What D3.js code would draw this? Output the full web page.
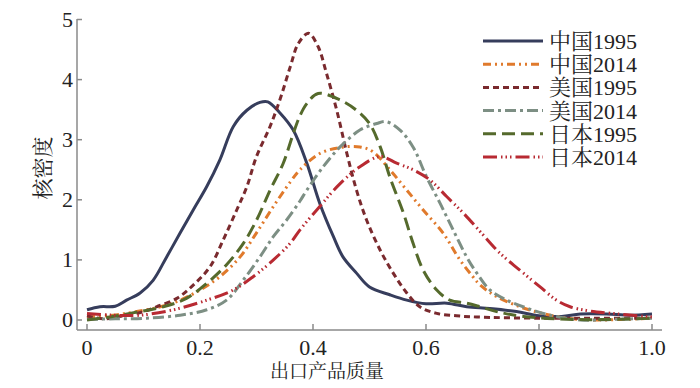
<!DOCTYPE html>
<html>
<head>
<meta charset="utf-8">
<script src="https://cdn.jsdelivr.net/npm/d3@7"></script>
<style>
  body { margin: 0; background: #fff; }
  text { font-family: "Liberation Serif", "Noto Serif CJK SC", "Noto Sans CJK SC", serif; fill: #222; }
  .axis-line { stroke: #8a8a8a; stroke-width: 1.5px; }
</style>
</head>
<body>
<svg id="chart" width="700" height="388"></svg>
<script>
  const xTicks = [0, 0.2, 0.4, 0.6, 0.8, 1.0];
  const xTickLabels = ["0", "0.2", "0.4", "0.6", "0.8", "1.0"];
  const yTicks = [0, 1, 2, 3, 4, 5];

  const cn1995 = [[0,0.17],[0.023,0.22],[0.05,0.23],[0.07,0.33],[0.094,0.45],[0.117,0.66],[0.141,1.05],[0.165,1.45],[0.188,1.83],[0.212,2.22],[0.235,2.66],[0.259,3.22],[0.283,3.49],[0.306,3.62],[0.32,3.63],[0.342,3.44],[0.365,3.16],[0.389,2.61],[0.412,1.94],[0.436,1.39],[0.453,1.05],[0.477,0.78],[0.5,0.55],[0.536,0.42],[0.566,0.33],[0.6,0.27],[0.637,0.28],[0.672,0.22],[0.713,0.19],[0.76,0.14],[0.8,0.07],[0.84,0.06],[0.873,0.1],[0.92,0.1],[0.96,0.08],[1.0,0.1]];
  const cn2014 = [[0,0.05],[0.046,0.08],[0.088,0.14],[0.13,0.22],[0.165,0.33],[0.2,0.5],[0.235,0.72],[0.271,1.05],[0.3,1.45],[0.33,1.89],[0.36,2.3],[0.377,2.5],[0.412,2.77],[0.448,2.87],[0.483,2.88],[0.506,2.8],[0.536,2.5],[0.566,2.16],[0.595,1.83],[0.63,1.45],[0.66,1.0],[0.683,0.72],[0.696,0.58],[0.725,0.39],[0.772,0.2],[0.82,0.08],[0.86,0.02],[0.9,0.0],[0.95,0.01],[1.0,0.03]];
  const us1995 = [[0,0.07],[0.03,0.02],[0.06,0.06],[0.1,0.14],[0.123,0.22],[0.159,0.36],[0.188,0.58],[0.218,0.89],[0.241,1.33],[0.265,1.83],[0.283,2.22],[0.3,2.72],[0.324,3.22],[0.342,3.68],[0.36,4.22],[0.374,4.6],[0.392,4.77],[0.409,4.55],[0.424,4.1],[0.442,3.49],[0.46,2.77],[0.477,2.16],[0.495,1.66],[0.519,1.16],[0.542,0.78],[0.566,0.45],[0.589,0.22],[0.619,0.11],[0.654,0.07],[0.69,0.05],[0.8,0.03],[0.9,0.03],[1.0,0.03]];
  const us2014 = [[0,0.01],[0.05,0.02],[0.106,0.03],[0.165,0.08],[0.212,0.17],[0.247,0.33],[0.277,0.67],[0.306,1.05],[0.33,1.39],[0.353,1.66],[0.377,1.98],[0.389,2.16],[0.418,2.55],[0.448,2.88],[0.483,3.16],[0.513,3.27],[0.53,3.3],[0.554,3.16],[0.577,2.88],[0.601,2.38],[0.625,1.94],[0.648,1.5],[0.672,1.05],[0.69,0.78],[0.713,0.5],[0.743,0.33],[0.778,0.2],[0.82,0.08],[0.873,0.0],[0.93,0.01],[1.0,0.03]];
  const jp1995 = [[0,0.0],[0.04,0.05],[0.076,0.11],[0.135,0.22],[0.176,0.36],[0.212,0.61],[0.247,0.92],[0.277,1.28],[0.3,1.66],[0.324,2.16],[0.347,2.6],[0.365,3.1],[0.377,3.4],[0.389,3.6],[0.409,3.77],[0.448,3.66],[0.477,3.49],[0.5,3.27],[0.519,2.88],[0.536,2.38],[0.56,1.78],[0.577,1.28],[0.595,0.83],[0.619,0.5],[0.642,0.33],[0.672,0.28],[0.696,0.22],[0.725,0.14],[0.772,0.06],[0.86,0.01],[0.93,0.01],[1.0,0.03]];
  const jp2014 = [[0,0.11],[0.046,0.08],[0.094,0.08],[0.153,0.17],[0.212,0.33],[0.259,0.5],[0.294,0.72],[0.33,1.0],[0.36,1.28],[0.377,1.5],[0.412,1.89],[0.448,2.27],[0.483,2.55],[0.519,2.72],[0.548,2.61],[0.577,2.5],[0.607,2.33],[0.637,2.05],[0.666,1.78],[0.696,1.47],[0.731,1.11],[0.766,0.83],[0.802,0.55],[0.831,0.33],[0.855,0.22],[0.89,0.15],[0.93,0.11],[1.0,0.05]];

  const seriesNames = ["中国1995", "中国2014", "美国1995", "美国2014", "日本1995", "日本2014"];
  const seriesData = [cn1995, cn2014, us1995, us2014, jp1995, jp2014];
  const colors = ["#363d5c", "#e07a2c", "#7a2a2e", "#7d8f84", "#556a2c", "#b82a32"];
  const dashes = ["none", "8,4,2,4,2,4", "6,4", "11,4,3,4", "13,6", "14,4,1.5,3,1.5,3,1.5,4"];

  const svg = d3.select("#chart");
  const x = d3.scaleLinear().domain([0, 1]).range([87, 652]);
  const y = d3.scaleLinear().domain([0, 5]).range([320, 19.5]);

  // axes frame (left + bottom), gray
  svg.append("line").attr("class", "axis-line")
    .attr("x1", 77).attr("y1", 19).attr("x2", 77).attr("y2", 330);
  svg.append("line").attr("class", "axis-line")
    .attr("x1", 77).attr("y1", 330).attr("x2", 662).attr("y2", 330);

  // y ticks (inward)
  svg.selectAll(".ytick").data(yTicks).enter().append("line")
    .attr("class", "axis-line")
    .attr("x1", 77).attr("x2", 82)
    .attr("y1", d => y(d)).attr("y2", d => y(d));
  svg.selectAll(".ylab").data(yTicks).enter().append("text")
    .attr("x", 73).attr("y", d => y(d) + 7)
    .attr("text-anchor", "end")
    .attr("font-size", 22)
    .text(d => d);

  // x ticks (inward, up from bottom)
  svg.selectAll(".xtick").data(xTicks).enter().append("line")
    .attr("class", "axis-line")
    .attr("x1", d => x(d)).attr("x2", d => x(d))
    .attr("y1", 330).attr("y2", 324);
  svg.selectAll(".xlab").data(xTicks).enter().append("text")
    .attr("x", d => x(d)).attr("y", 355)
    .attr("text-anchor", "middle")
    .attr("font-size", 22)
    .text((d, i) => xTickLabels[i]);

  svg.append("text")
    .attr("x", 327).attr("y", 378)
    .attr("text-anchor", "middle")
    .attr("font-size", 19)
    .text("出口产品质量");

  svg.append("text")
    .attr("transform", "translate(50,168) rotate(-90)")
    .attr("text-anchor", "middle")
    .attr("font-size", 21)
    .text("核密度");

  const line = d3.line()
    .x(d => x(d[0]))
    .y(d => y(d[1]))
    .curve(d3.curveCatmullRom.alpha(0.5));

  seriesData.forEach((s, i) => {
    svg.append("path")
      .datum(s)
      .attr("fill", "none")
      .attr("stroke", colors[i])
      .attr("stroke-width", 3)
      .attr("stroke-dasharray", dashes[i])
      .attr("d", line);
  });

  // legend
  const legend = svg.append("g");
  seriesNames.forEach((name, i) => {
    const ly = 41 + i * 23.2;
    legend.append("line")
      .attr("x1", 483).attr("x2", 543)
      .attr("y1", ly).attr("y2", ly)
      .attr("stroke", colors[i])
      .attr("stroke-width", 3)
      .attr("stroke-dasharray", dashes[i]);
    legend.append("text")
      .attr("x", 549).attr("y", ly + 8)
      .attr("font-size", 22)
      .text(name);
  });
</script>
</body>
</html>
